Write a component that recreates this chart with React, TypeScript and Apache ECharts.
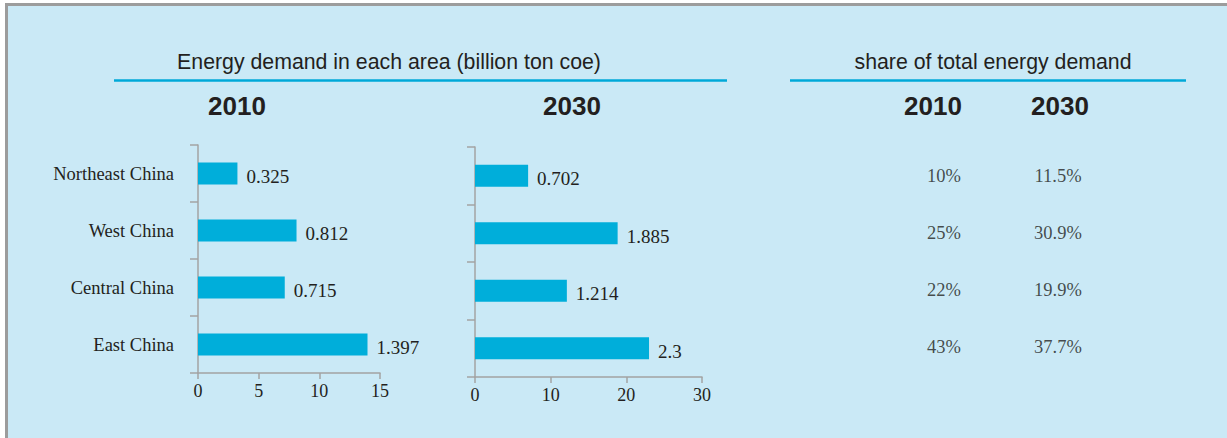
import React, { useEffect, useRef } from "react";
import * as echarts from "echarts";

const regions = ["Northeast China", "West China", "Central China", "East China"];
const demand2010 = [0.325, 0.812, 0.715, 1.397];
const demand2030 = [0.702, 1.885, 1.214, 2.3];
const share2010 = [10, 25, 22, 43];
const share2030 = [11.5, 30.9, 19.9, 37.7];
const years = ["2010", "2030"];
const ticks2010 = [0, 0.5, 1, 1.5];
const ticks2030 = [0, 1, 2, 3];

const SANS = "'Liberation Sans', Arial, sans-serif";
const SERIF = "'Liberation Serif', 'Times New Roman', serif";
const INK = "#231F20";
const BAR = "#00AEDA";
const AXIS = "#A3A3A3";
const BG = "#CAE9F6";

export default function App() {
  const ref = useRef<HTMLDivElement>(null);
  useEffect(() => {
    if (!ref.current) return;
    const chart = echarts.init(ref.current, undefined, { renderer: "svg" });
    const axisLine = { show: true, lineStyle: { color: AXIS, width: 1.5 } };
    const xAxisCommon = (max: number, interval: number) => ({
      type: "value" as const,
      min: 0,
      max,
      interval,
      splitLine: { show: false },
      axisLine,
      axisTick: { show: true, length: 6, lineStyle: { color: AXIS, width: 1.5 } },
      axisLabel: {
        margin: 9,
        fontFamily: SERIF,
        fontSize: 18,
        color: INK,
        formatter: (v: number) => String(Math.round(v * 10)),
      },
    });
    const yAxisCommon = (showLabel: boolean) => ({
      type: "category" as const,
      data: regions,
      inverse: true,
      axisLine,
      axisTick: { show: true, length: 8, lineStyle: { color: AXIS, width: 1.5 } },
      axisLabel: {
        show: showLabel,
        margin: 24,
        fontFamily: SERIF,
        fontSize: 18.5,
        color: INK,
      },
    });
    const barSeries = (idx: number, data: number[]) => ({
      type: "bar" as const,
      xAxisIndex: idx,
      yAxisIndex: idx,
      data,
      barWidth: 22,
      itemStyle: { color: BAR },
      label: {
        show: true,
        position: "right" as const,
        distance: 9,
        offset: [0, 3],
        fontFamily: SERIF,
        fontSize: 19,
        color: INK,
        formatter: (p: any) => String(p.value),
      },
    });
    const shareData = (yi: number, arr: number[], dec: number) =>
      arr.map((v, i) => [years[yi], regions[i], v, dec]);
    const shareSeries = (yi: number, arr: number[], dec: number) => ({
      type: "scatter" as const,
      xAxisIndex: 2,
      yAxisIndex: 2,
      symbolSize: 1,
      itemStyle: { color: "rgba(0,0,0,0)" },
      data: shareData(yi, arr, dec),
      label: {
        show: true,
        position: "inside" as const,
        offset: [0, 2],
        fontFamily: SERIF,
        fontSize: 18.5,
        color: INK,
        formatter: (p: any) => `${(p.value[2] as number).toFixed(p.value[3])}%`,
      },
    });
    const text = (x: number, y: number, t: string, size: number, bold = false) => ({
      type: "text" as const,
      x,
      y,
      style: {
        text: t,
        fill: INK,
        font: `${bold ? "bold " : ""}${size}px ${SANS}`,
        textAlign: "center",
        textVerticalAlign: "middle",
      },
    });
    chart.setOption({
      animation: false,
      backgroundColor: "#ffffff",
      graphic: [
        { type: "rect", z: -10, shape: { x: 5, y: 3, width: 1222, height: 435 }, style: { fill: "#9C9C9C" } },
        { type: "rect", z: -9, shape: { x: 8, y: 6, width: 1219, height: 432 }, style: { fill: BG } },
        { type: "rect", shape: { x: 114, y: 79.3, width: 613, height: 2.4 }, style: { fill: "#00A9D8" } },
        { type: "rect", shape: { x: 790, y: 79.3, width: 396, height: 2.4 }, style: { fill: "#00A9D8" } },
        text(389, 62, "Energy demand in each area (billion ton coe)", 21.3),
        text(993, 62, "share of total energy demand", 21.3),
        text(237, 106, years[0], 26, true),
        text(572, 106, years[1], 26, true),
        text(933, 106, years[0], 26, true),
        text(1060, 106, years[1], 26, true),
      ],
      grid: [
        { left: 198, top: 145, width: 182, height: 228 },
        { left: 475, top: 147, width: 227, height: 230 },
        { left: 887, top: 145, width: 228, height: 228 },
      ],
      xAxis: [
        { ...xAxisCommon(ticks2010[ticks2010.length - 1], ticks2010[1]), gridIndex: 0 },
        { ...xAxisCommon(ticks2030[ticks2030.length - 1], ticks2030[1]), gridIndex: 1 },
        { type: "category", data: years, gridIndex: 2, show: false },
      ],
      yAxis: [
        { ...yAxisCommon(true), gridIndex: 0 },
        { ...yAxisCommon(false), gridIndex: 1 },
        { type: "category", data: regions, inverse: true, gridIndex: 2, show: false },
      ],
      series: [
        barSeries(0, demand2010),
        barSeries(1, demand2030),
        shareSeries(0, share2010, 0),
        shareSeries(1, share2030, 1),
      ],
    });
    return () => chart.dispose();
  }, []);
  return (
    <div
      ref={ref}
      style={{ position: "absolute", left: 0, top: 0, width: 1227, height: 438 }}
    />
  );
}
